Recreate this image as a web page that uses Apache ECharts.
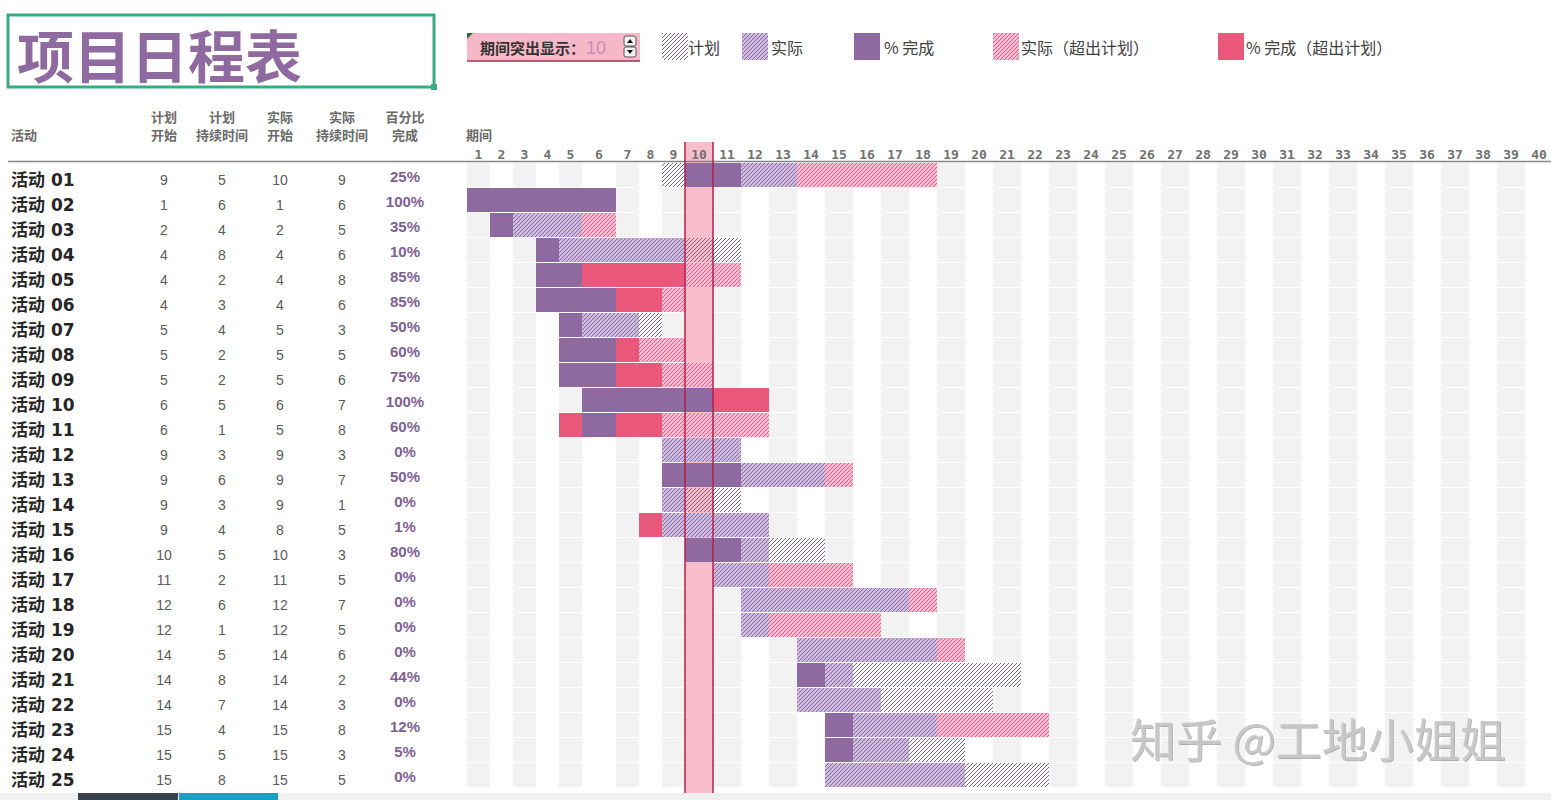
<!DOCTYPE html>
<html>
<head>
<meta charset="utf-8">
<script src="https://cdn.jsdelivr.net/npm/echarts@6/dist/echarts.min.js"></script>
<style>html,body{margin:0;padding:0;background:#fff;overflow:hidden}#chart{width:1551px;height:800px}</style>
</head>
<body>
<div id="chart"></div>
<script>
// ---------------- data ----------------
const activities = ['活动 01','活动 02','活动 03','活动 04','活动 05','活动 06','活动 07','活动 08','活动 09','活动 10',
  '活动 11','活动 12','活动 13','活动 14','活动 15','活动 16','活动 17','活动 18','活动 19','活动 20',
  '活动 21','活动 22','活动 23','活动 24','活动 25'];
const planStart   = [9,1,2,4,4,4,5,5,5,6,6,9,9,9,9,10,11,12,12,14,14,14,15,15,15];
const planDur     = [5,6,4,8,2,3,4,2,2,5,1,3,6,3,4,5,2,6,1,5,8,7,4,5,8];
const actualStart = [10,1,2,4,4,4,5,5,5,6,5,9,9,9,8,10,11,12,12,14,14,14,15,15,15];
const actualDur   = [9,6,5,6,8,6,3,5,6,7,8,3,7,1,5,3,5,7,5,6,2,3,8,3,5];
const pctComplete = [25,100,35,10,85,85,50,60,75,100,60,0,50,0,1,80,0,0,0,0,44,0,12,5,0];
const periods = ['1','2','3','4','5','6','7','8','9','10','11','12','13','14','15','16','17','18','19','20',
  '21','22','23','24','25','26','27','28','29','30','31','32','33','34','35','36','37','38','39','40'];
const highlightPeriod = 10;
const tableHeaders = ['计划\n开始','计划\n持续时间','实际\n开始','实际\n持续时间','百分比\n完成'];
const legendLabels = ['计划','实际','% 完成','实际（超出计划）','% 完成（超出计划）'];

// ---------------- layout / style ----------------
const GRID_TOP = 162, ROW_H = 25, NROWS = activities.length;
const segments = [
  {from:1, to:5, left:467, cw:23},
  {from:6, to:6, left:582, cw:34},
  {from:7, to:9, left:616, cw:23},
  {from:10, to:40, left:685, cw:28}
];
const NAME_X = 11;
const TABLE_LEFT = 467;
const tableColX = [164, 222, 280, 342, 405];
const FONT = '"Noto Sans CJK SC", "Noto Sans", sans-serif';
const COL = {
  purple:'#8E6AA1', red:'#E9577A', hl:'#F7BDCB', hlLine:'#B3214B', grey:'#F2F2F2',
  text:'#404040', head:'#6A6A6A', pct:'#7E6192', title:'#8E6AA1', green:'#3BAA82'
};
function makePattern(bg, line) {
  const c = document.createElement('canvas');
  c.width = 4; c.height = 4;
  const g = c.getContext('2d');
  if (bg) { g.fillStyle = bg; g.fillRect(0, 0, 4, 4); }
  g.fillStyle = line;
  for (let x = 0; x < 4; x++) g.fillRect(x, 3 - x, 1, 1);
  return {image: c, repeat: 'repeat', imageWidth: 4, imageHeight: 4};
}
const PAT = {
  plan:   makePattern('#FFFFFF', '#76668C'),
  planHL: makePattern(COL.hl, '#86607F'),
  actual: makePattern('#CDBBDE', '#8A69A4'),
  beyond: makePattern('#F7B9CD', '#D2658D')
};
// kinds: 0 plan, 1 actual, 2 actual beyond plan, 3 % complete, 4 % complete beyond plan
function cellKind(r, p) {
  const ps = planStart[r], pd = planDur[r], as = actualStart[r], ad = actualDur[r], pc = pctComplete[r] / 100;
  const inPlan = p >= ps && p < ps + pd;
  const inActual = as > 0 && p >= as && p <= as + ad - 1;
  const done = pc > 0 && p >= as && p <= as + ad && (p < Math.floor(as + ad * pc) || p === as);
  if (done) return inPlan ? 3 : 4;
  if (inActual) return inPlan ? 1 : 2;
  if (inPlan) return 0;
  return -1;
}
function fillFor(k, p) {
  if (k === 0) return p === highlightPeriod ? PAT.planHL : PAT.plan;
  if (k === 1) return PAT.actual;
  if (k === 2) return PAT.beyond;
  if (k === 3) return COL.purple;
  return COL.red;
}

// ---------------- build option ----------------
const grid = [], xAxis = [], yAxis = [], series = [];
segments.forEach((seg, si) => {
  const n = seg.to - seg.from + 1;
  grid.push({left: seg.left, top: GRID_TOP, width: seg.cw * n, height: ROW_H * NROWS,
    containLabel: false, outerBoundsMode: 'none'});
  xAxis.push({type: 'category', gridIndex: si, position: 'top', z: 10,
    data: periods.slice(seg.from - 1, seg.to),
    axisLine: {show: false}, axisTick: {show: false}, splitLine: {show: false},
    axisLabel: {interval: 0, margin: 1, color: '#707070', fontSize: 13, fontWeight: 'bold',
      fontFamily: '"DejaVu Sans Mono", monospace'}});
  yAxis.push({type: 'category', gridIndex: si, position: 'left', inverse: true, data: activities, show: false});

  const bgData = [], cellData = [];
  for (let p = seg.from; p <= seg.to; p++) {
    for (let r = 0; r < NROWS; r++) {
      if (p % 2 === 1) bgData.push([p - seg.from, r]);
      const k = cellKind(r, p);
      if (k >= 0) cellData.push([p - seg.from, r, k]);
    }
  }
  const cellRect = (api, idx, r) => {
    const c = api.coord([idx, r]), s = api.size([1, 1]);
    return {x: c[0] - s[0] / 2, y: c[1] - s[1] / 2 + 1, width: s[0], height: s[1] - 1};
  };
  series.push({type: 'custom', xAxisIndex: si, yAxisIndex: si, z: 1, silent: true, data: bgData,
    renderItem: (params, api) => ({type: 'rect', shape: cellRect(api, api.value(0), api.value(1)),
      style: {fill: COL.grey}})});
  if (highlightPeriod >= seg.from && highlightPeriod <= seg.to) {
    const hIdx = highlightPeriod - seg.from;
    const hlShape = (params, api) => {
      const c = api.coord([hIdx, 0]), s = api.size([1, 1]);
      const cs = params.coordSys;
      return {x0: c[0] - s[0] / 2, x1: c[0] + s[0] / 2, y0: cs.y - 20, y1: cs.y + cs.height + 6};
    };
    series.push({type: 'custom', xAxisIndex: si, yAxisIndex: si, z: 2, clip: false, silent: true,
      data: [[hIdx, 0]],
      renderItem: (params, api) => {
        const h = hlShape(params, api);
        return {type: 'rect', shape: {x: h.x0, y: h.y0, width: h.x1 - h.x0, height: h.y1 - h.y0},
          style: {fill: COL.hl}};
      }});
    series.push({type: 'custom', xAxisIndex: si, yAxisIndex: si, z: 6, clip: false, silent: true,
      data: [[hIdx, 0]],
      renderItem: (params, api) => {
        const h = hlShape(params, api);
        return {type: 'group', children: [
          {type: 'line', shape: {x1: h.x0, y1: h.y0, x2: h.x0, y2: h.y1}, style: {stroke: COL.hlLine, lineWidth: 1.5}},
          {type: 'line', shape: {x1: h.x1, y1: h.y0, x2: h.x1, y2: h.y1}, style: {stroke: COL.hlLine, lineWidth: 1.5}}
        ]};
      }});
  }
  series.push({type: 'custom', xAxisIndex: si, yAxisIndex: si, z: 3, silent: true, data: cellData,
    renderItem: (params, api) => ({type: 'rect',
      shape: cellRect(api, api.value(0), api.value(1)),
      style: {fill: fillFor(api.value(2), seg.from + api.value(0))}})});
});

// table columns: y axes on two text grids (names/numbers sit low in their rows, percents slightly higher)
const TEXT_GRID = grid.length;
grid.push({left: TABLE_LEFT, top: GRID_TOP + 5, width: 10, height: ROW_H * NROWS, containLabel: false, outerBoundsMode: 'none'});
grid.push({left: TABLE_LEFT, top: GRID_TOP + 2, width: 10, height: ROW_H * NROWS, containLabel: false, outerBoundsMode: 'none'});
xAxis.push({type: 'value', gridIndex: TEXT_GRID, show: false});
xAxis.push({type: 'value', gridIndex: TEXT_GRID + 1, show: false});
const hidden = {axisLine: {show: false}, axisTick: {show: false}, splitLine: {show: false}};
const tableValues = [planStart, planDur, actualStart, actualDur];
yAxis.push(Object.assign({type: 'category', gridIndex: TEXT_GRID, position: 'left', inverse: true, data: activities,
  axisLabel: {interval: 0, margin: TABLE_LEFT - NAME_X, align: 'left', verticalAlign: 'middle',
    color: '#262626', fontSize: 17, fontWeight: 'bold', fontFamily: '"DejaVu Sans", ' + FONT}}, hidden));
tableValues.forEach((arr, i) => {
  yAxis.push(Object.assign({type: 'category', gridIndex: TEXT_GRID, position: 'left', inverse: true, data: activities,
    axisLabel: {interval: 0, margin: TABLE_LEFT - tableColX[i], align: 'center', verticalAlign: 'middle',
      color: '#5A5A5A', fontSize: 14, fontFamily: '"Liberation Sans", sans-serif',
      formatter: (v, idx) => String(arr[idx])}}, hidden));
});
yAxis.push(Object.assign({type: 'category', gridIndex: TEXT_GRID + 1, position: 'left', inverse: true, data: activities,
  axisLabel: {interval: 0, margin: TABLE_LEFT - tableColX[4], align: 'center', verticalAlign: 'middle',
    color: COL.pct, fontSize: 15, fontWeight: 'bold', fontFamily: '"Liberation Sans", sans-serif',
    formatter: (v, idx) => pctComplete[idx] + '%'}}, hidden));

// ---------------- graphics (title, control, legend, headers) ----------------
const graphic = [];
graphic.push({type: 'rect', shape: {x: 8, y: 15, width: 426, height: 72},
  style: {fill: 'none', stroke: COL.green, lineWidth: 3}, z: 5});
graphic.push({type: 'rect', shape: {x: 431, y: 84, width: 6, height: 6}, style: {fill: COL.green}, z: 5});
graphic.push({type: 'text', x: 17, y: 53, style: {text: '项目日程表', fill: COL.title,
  font: 'bold 57px ' + FONT, textVerticalAlign: 'middle'}, z: 5});
// period highlight control
graphic.push({type: 'rect', shape: {x: 467, y: 33, width: 173, height: 28}, style: {fill: '#F6B8C8'}, z: 5});
graphic.push({type: 'line', shape: {x1: 467, y1: 61, x2: 640, y2: 61}, style: {stroke: '#9E3550', lineWidth: 1.5}, z: 5});
graphic.push({type: 'polygon', shape: {points: [[467, 33], [473, 33], [467, 39]]}, style: {fill: '#2F6B38'}, z: 6});
graphic.push({type: 'text', x: 480, y: 47, style: {text: '期间突出显示：', fill: '#333333',
  font: 'bold 15px ' + FONT, textVerticalAlign: 'middle'}, z: 6});
graphic.push({type: 'text', x: 586, y: 48, style: {text: String(highlightPeriod), fill: '#C58CB6',
  font: '18px "Liberation Sans", sans-serif', textVerticalAlign: 'middle'}, z: 6});
[[624, 36], [624, 47]].forEach((pt, i) => {
  graphic.push({type: 'rect', shape: {x: pt[0], y: pt[1], width: 12, height: 10, r: 2},
    style: {fill: '#F4F4F4', stroke: '#555', lineWidth: 1}, z: 6});
  const cx = pt[0] + 6, cy = pt[1] + 5;
  graphic.push({type: 'polygon', shape: {points: i === 0 ? [[cx - 3, cy + 2], [cx + 3, cy + 2], [cx, cy - 2]]
    : [[cx - 3, cy - 2], [cx + 3, cy - 2], [cx, cy + 2]]}, style: {fill: '#111'}, z: 7});
});
// legend
const legendItems = [
  {x: 662, fill: PAT.plan, tx: 688},
  {x: 742, fill: PAT.actual, tx: 771},
  {x: 854, fill: COL.purple, tx: 884},
  {x: 993, fill: PAT.beyond, tx: 1021},
  {x: 1218, fill: COL.red, tx: 1246}
];
legendItems.forEach((it, i) => {
  graphic.push({type: 'rect', shape: {x: it.x, y: 33, width: 26, height: 27}, style: {fill: it.fill}, z: 5});
  graphic.push({type: 'text', x: it.tx, y: 47, style: {text: legendLabels[i], fill: COL.text,
    font: '16px ' + FONT, textVerticalAlign: 'middle'}, z: 5});
});
// table headers
graphic.push({type: 'text', x: NAME_X, y: 134, style: {text: '活动', fill: COL.head,
  font: 'bold 13px ' + FONT, textVerticalAlign: 'middle'}, z: 5});
tableHeaders.forEach((h, i) => {
  graphic.push({type: 'text', x: tableColX[i], y: 125, style: {text: h, fill: COL.head,
    font: 'bold 13px ' + FONT, textAlign: 'center', textVerticalAlign: 'middle', lineHeight: 18}, z: 5});
});
graphic.push({type: 'text', x: 466, y: 134, style: {text: '期间', fill: COL.head,
  font: 'bold 13px ' + FONT, textVerticalAlign: 'middle'}, z: 5});
graphic.push({type: 'line', shape: {x1: 8, y1: 161.5, x2: 1551, y2: 161.5},
  style: {stroke: '#858585', lineWidth: 1.5}, z: 5});
// watermark
graphic.push({type: 'text', x: 1130, y: 737, style: {text: '知乎 @工地小姐姐', fill: 'rgba(200,200,200,0.9)',
  font: '46px ' + FONT, textVerticalAlign: 'middle', textShadowColor: 'rgba(90,90,90,0.5)',
  textShadowOffsetX: 1, textShadowOffsetY: 1, textShadowBlur: 1}, z: 20});
// excel sheet bar at bottom
graphic.push({type: 'rect', shape: {x: 0, y: 793, width: 1551, height: 7}, style: {fill: '#F0F0F0'}, z: 8});
graphic.push({type: 'rect', shape: {x: 78, y: 793, width: 100, height: 7}, style: {fill: '#36414A'}, z: 9});
graphic.push({type: 'rect', shape: {x: 179, y: 793, width: 99, height: 7}, style: {fill: '#1C9FC2'}, z: 9});

const chart = echarts.init(document.getElementById('chart'), null, {renderer: 'svg', width: 1551, height: 800});
chart.setOption({
  backgroundColor: '#ffffff',
  animation: false,
  grid, xAxis, yAxis, series, graphic
});
</script>
</body>
</html>
